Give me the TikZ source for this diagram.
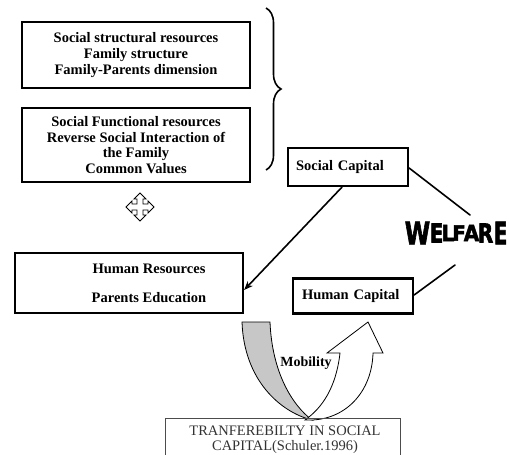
\documentclass[tikz,border=0pt]{standalone}
\usepackage{fontspec}
\setmainfont{Liberation Serif}
\newfontfamily\welfont[BoldFeatures={FakeBold=2.5}]{DejaVu Sans}
\usetikzlibrary{decorations.pathreplacing,arrows.meta}
\begin{document}
\begin{tikzpicture}[x=1pt,y=-1pt,
  box/.style={draw=black,line width=2.2pt,fill=white,inner sep=0pt,font=\bfseries\fontsize{14.5}{15.6}\selectfont,align=center},
  conn/.style={line width=1.6pt,line cap=round},
  wl/.style={font=\welfont\bfseries\fontsize{20}{20}\selectfont,inner sep=0pt,anchor=center,xscale=1.0}]
\useasboundingbox (0,0) rectangle (510,454);
% boxes
\node[box,minimum width=228,minimum height=66] (b1) at (136,55) {Social structural resources\\Family structure\\Family-Parents dimension};
\node[box,minimum width=228,minimum height=74] (b2) at (136,145) {Social Functional resources\\Reverse Social Interaction of\\the Family\\Common Values};
\node[box,minimum width=120,minimum height=38,align=left,text width=104] (sc) at (348,167) {Social Capital};
\node[box,minimum width=228,minimum height=60] (hr) at (129,283) {};
\node[font=\bfseries\fontsize{14.5}{15}\selectfont,align=center,inner sep=0pt] (hrt) at (149,283) {Human Resources\\[14pt]Parents Education};
\node[box,minimum width=120,minimum height=35,align=left,text width=102] (hc) at (353,296) {Human Capital};
% brace
\coordinate (br1) at (266,8);
\coordinate (br2) at (266,170);
\draw[line width=1.6pt,decorate,decoration={brace,amplitude=15pt}] (br1) -- (br2);
% cross arrow icon
\begin{scope}[shift={(140,207)}]
\draw[line width=0.9pt,fill=white] (0,-14) -- (6,-8) -- (3,-8) -- (3,-3) -- (8,-3) -- (8,-6) -- (14,0) -- (8,6) -- (8,3) -- (3,3) -- (3,8) -- (6,8) -- (0,14) -- (-6,8) -- (-3,8) -- (-3,3) -- (-8,3) -- (-8,6) -- (-14,0) -- (-8,-6) -- (-8,-3) -- (-3,-3) -- (-3,-8) -- (-6,-8) -- cycle;
\end{scope}
\node[inner sep=0pt] (icon) at (140,207) {};
% welfare
\node[wl,xscale=1.15,yscale=1.55] (w1) at (417.5,233) {W};
\node[wl,yscale=1.3] (w2) at (436.5,233) {E};
\node[wl,yscale=1.12] (w3) at (448,233) {L};
\node[wl,yscale=1.05] (w4) at (459,233) {F};
\node[wl,yscale=1.12] (w5) at (471.5,233) {A};
\node[wl,yscale=1.3] (w6) at (485.5,233) {R};
\node[wl,yscale=1.55] (w7) at (500.5,233) {E};
% connectors
\coordinate (wtop) at (470,215);
\coordinate (wbot) at (455,265);
\draw[conn,-{Stealth[length=9pt,width=7pt]}] (sc.south) ++(-6,0) coordinate (scs) (scs) -- (hr.east |- 0,290);
\draw[conn] (sc.east |- 0,168) -- (wtop);
\draw[conn] (hc.east |- 0,295) -- (wbot);
% mobility arrow
\draw[line width=0.8pt,fill=black!22] (242,322) -- (270,322) .. controls (272,372) and (292,405) .. (312,420) .. controls (280,412) and (244,380) .. (242,322) -- cycle;
\draw[line width=0.8pt,fill=white] (305,420) .. controls (345,422) and (372,392) .. (373,353) -- (383,353) -- (368,322) -- (327,353) -- (340,353) .. controls (336,388) and (322,408) .. (305,420) -- cycle;
\node[font=\bfseries\fontsize{14}{14}\selectfont,inner sep=1pt] (mob) at (306,363) {Mobility};
% bottom box
\node[draw=black!70,line width=0.8pt,minimum width=235,minimum height=44,anchor=north west,inner sep=0pt] (tb) at (165,418) {};
\node[font=\fontsize{14.5}{15}\selectfont,text=black!80,align=center,inner sep=0pt] (tbt) at (285,440) {TRANFEREBILTY IN SOCIAL\\CAPITAL(Schuler.1996)};
\end{tikzpicture}
\end{document}
